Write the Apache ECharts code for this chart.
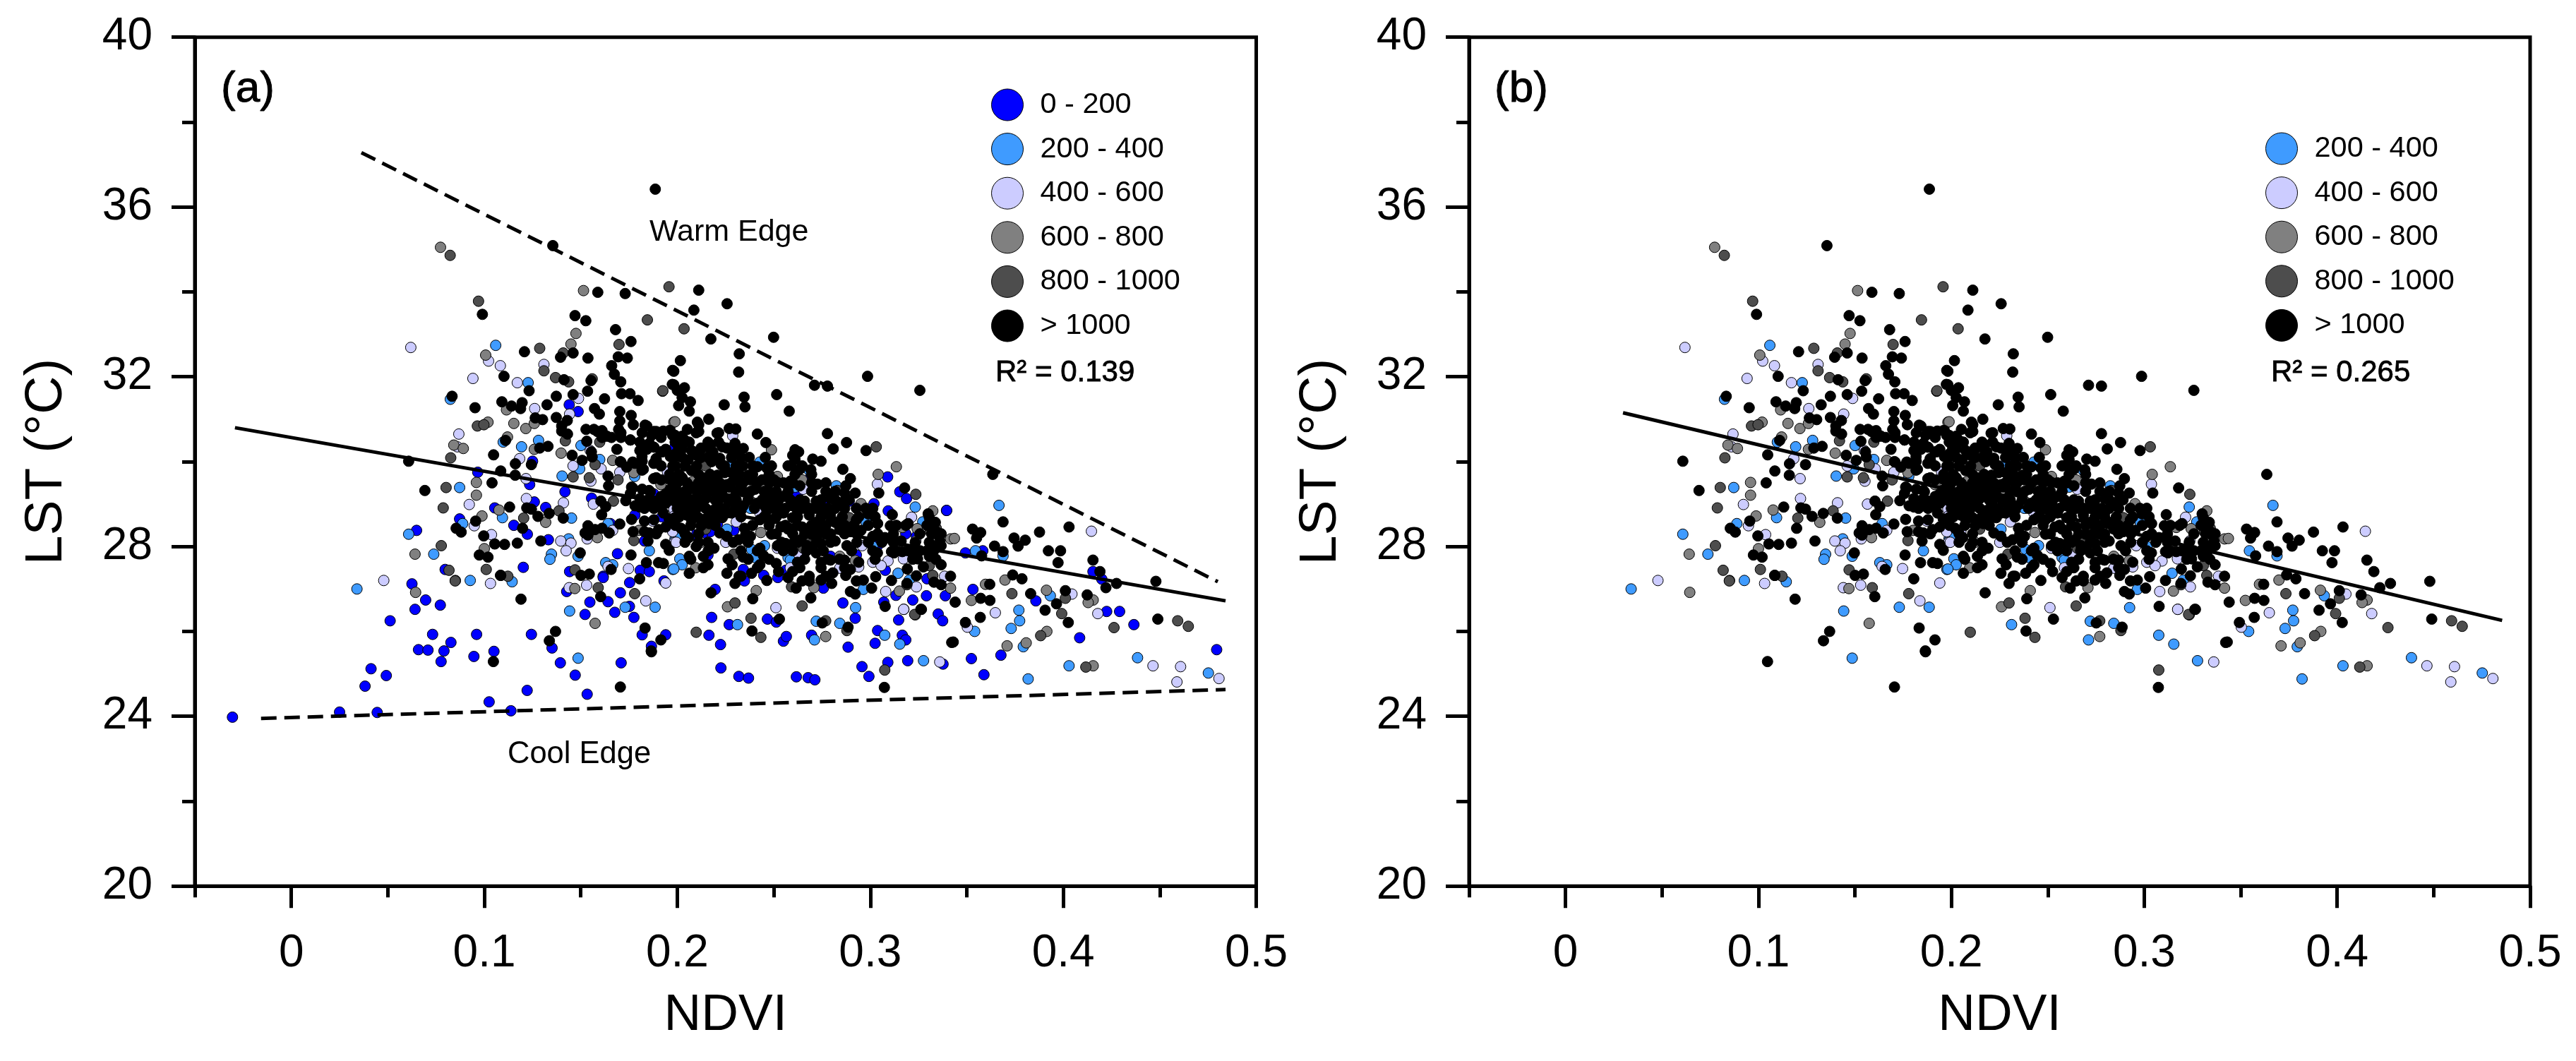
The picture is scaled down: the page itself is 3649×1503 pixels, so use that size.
<!DOCTYPE html>
<html><head><meta charset="utf-8">
<style>html,body{margin:0;padding:0;background:#fff}#c{width:3649px;height:1503px}</style>
<script src="https://cdn.jsdelivr.net/npm/echarts@6/dist/echarts.min.js"></script>
</head><body><div id="c"></div>
<script>
const legendNames = ['0 - 200','200 - 400','400 - 600','600 - 800','800 - 1000','> 1000'];
const colors = ['#0000FF','#3F9BFF','#CCCCFF','#808080','#4D4D4D','#000000'];
const yLabels = [20,24,28,32,36,40];
const yMinor = [22,26,30,34,38];
const xMajor = [0,0.1,0.2,0.3,0.4,0.5];
const xMinor = [-0.05,0.05,0.15,0.25,0.35,0.45];
const fitA = [[-0.0292,30.80],[0.4841,26.72]];
const warmEdge = [[0.0363,37.28],[0.4801,27.17]];
const coolEdge = [[-0.0157,23.95],[0.4841,24.63]];
const fitB = [[0.0298,31.15],[0.4855,26.26]];

const ptsBlue = [[-.0305,23.98],[.025,24.1],[.0445,24.09],[.0382,24.71],[.0492,24.96],[.0413,25.12],[.0512,26.25],
[.144,31.34],[.1486,31.18],[.125,30.01],[.0966,29.75],[.1235,29.46],[.1418,29.29],[.1556,29.14],[.1259,29.05],[.1054,28.91],[.1318,28.92],[.0872,28.65],[.1153,28.5],[.1223,28.29],[.0649,28.38],[.1653,28.54],[.1332,28.16],[.192,28.7],[.169,27.83],[.1202,27.51],[.0797,27.46],[.1442,27.41],[.1808,27.44],[.1855,27.41],[.1616,27.3],[.183,28.13],[.178,28.74],[.1878,29.24],[.1988,30.35],
[.0625,27.12],[.0696,26.74],[.0641,26.52],[.0772,26.62],[.0732,25.93],[.096,25.93],[.0827,25.74],[.0659,25.57],[.0708,25.56],[.0791,25.54],[.0946,25.41],[.105,25.53],[.0776,25.29],[.1244,25.93],[.1351,25.61],[.1394,25.26],[.1471,24.97],[.1222,24.61],[.1025,24.34],[.1138,24.13],[.1533,24.52],[.1709,25.26],[.1547,26.69],[.1641,26.7],[.1676,26.45],[.1522,26.4],[.1705,26.91],[.1753,27.15],[.1775,26.33],[.1818,25.92],[.194,25.92],[.1866,25.65],[.1616,27.27],[.1427,26.94],[.1752,26.59],[.1931,27.19],
[.309,29.64],[.2684,29.59],[.3153,29.29],[.3188,29.13],[.2583,29.31],[.3395,28.85],[.3093,28.84],[.3019,29.01],[.2757,28.96],[.2623,29.21],[.2891,29.07],[.2836,28.54],[.3184,28.3],[.3239,28.24],[.3038,28.02],[.2208,28.54],[.2171,28.35],[.2129,28.27],[.2086,28.27],[.2293,28.38],[.2159,27.8],[.2342,27.46],[.2348,27.19],[.2448,27.32],[.2521,27.27],[.2562,27.44],[.2928,27.8],[.2794,27.77],[.3078,27.44],[.3294,27.24],[.2196,26.99],[.2858,26.67],[.3133,26.85],[.322,26.74],[.3291,26.84],[.3389,26.84],[.307,26.69],[.2178,26.33],[.2269,26.16],[.2467,26.29],[.2513,26.22],[.3147,26.27],[.3352,26.41],[.3375,26.25],[.2922,26.31],[.2164,25.91],[.2224,25.69],[.255,25.77],[.2565,25.88],[.3038,26.02],[.3025,25.72],[.3166,25.91],[.3184,25.8],[.2885,25.63],[.2757,27.02],[.2696,25.91],
[.2226,25.14],[.2319,24.94],[.2369,24.9],[.2617,24.93],[.2678,24.91],[.2713,24.86],[.2957,25.17],[.2993,24.94],[.3091,25.27],[.3194,25.31],[.3377,25.23],[.3524,25.36],[.3589,24.98],[.3677,25.44],[.4085,25.85],[.4795,25.57],
[.3396,28.85],[.3493,27.85],[.3583,27.9],[.4154,27.41],[.42,27.23],[.3858,26.72],[.4225,26.47],[.4292,26.47],[.4366,26.16],[.3532,26.99]];

const ptsLightBlue = [[.034,27.0],[.1059,32.74],[.1227,31.86],[.0824,31.47],[.1281,30.5],[.1193,30.35],[.1098,30.46],[.1501,30.38],[.1598,30.05],[.1494,29.83],[.1403,29.66],[.1779,29.65],[.0872,29.39],[.1094,28.68],[.1452,28.67],[.0888,28.54],[.0608,28.29],[.0738,27.82],[.1855,27.9],[.1641,28.54],[.1348,27.82],[.134,27.7],[.1437,28.18],[.1486,27.77],[.1629,27.62],[.1665,27.57],[.1977,27.46],[.0927,27.2],[.1988,28.18],
[.1144,27.17],[.1442,26.48],[.1486,25.37],[.173,26.57],[.1885,26.57],
[.2284,29.96],[.2684,29.79],[.2428,29.99],[.2824,29.43],[.2379,28.9],[.3233,28.93],[.3272,28.58],[.2848,28.46],[.2891,28.38],[.2979,28.57],[.3013,28.0],[.2257,28.41],[.1994,28.21],[.2385,27.93],[.2452,28.02],[.2013,27.71],[.2025,27.57],[.1982,27.47],[.2403,27.74],[.2574,27.74],[.2586,27.68],[.3144,27.37],[.2964,26.99],[.3202,27.21],[.2924,26.56],[.2312,26.16],[.2842,26.19],[.272,26.24],[.2711,25.8],[.3075,25.91],[.3153,25.7],[.2611,29.4],
[.3276,25.31],[.3818,24.88],[.3793,25.64],[.403,25.19],[.4385,25.38],[.4752,25.02],[.3667,28.97],[.3545,27.9],[.3688,27.78],[.3933,26.84],[.377,26.5],[.3774,26.25],[.373,26.07],[.3541,26.0]];

const ptsLavender = [[.0479,27.2],[.0619,32.69],[.1022,32.37],[.1083,32.26],[.1309,32.29],[.0941,31.96],[.1171,31.86],[.1488,31.49],[.1261,31.25],[.1442,31.12],[.0868,30.65],[.086,30.35],[.1183,30.07],[.146,29.9],[.1605,29.83],[.1549,30.26],[.1702,29.75],[.1949,29.76],[.1216,29.6],[.1552,29.54],[.1218,29.13],[.141,29.03],[.1565,29.0],[.0922,28.99],[.1873,28.6],[.0948,28.49],[.1037,28.28],[.1396,28.13],[.1449,28.08],[.1424,27.9],[.1533,28.18],[.1665,28.38],[.1641,27.53],[.1747,27.48],[.1988,28.88],[.1986,28.1],
[.1032,27.13],[.153,27.09],[.144,27.03],[.1837,26.72],[.194,27.14],
[.2287,30.61],[.2653,29.35],[.3037,29.47],[.3214,28.69],[.2306,28.58],[.1982,28.88],[.1982,28.71],[.1994,28.1],[.2251,28.1],[.2519,27.96],[.2629,27.82],[.2696,28.18],[.3013,27.63],[.3092,27.66],[.3056,27.55],[.294,27.52],[.2842,27.49],[.3172,27.71],[.3236,28.13],[.3239,27.05],[.308,26.94],[.3174,26.52],[.2511,26.56],[.3385,27.3],[.2958,28.02],[.2428,28.79],[.2586,27.5],[.1976,28.35],[.2049,28.35],
[.336,25.28],[.4465,25.19],[.4608,25.17],[.4589,24.81],[.4807,24.89],[.4146,28.36],[.3648,26.44],[.4179,26.42],[.4045,26.88],[.3503,26.1],[.3173,26.52]];

const ptsGray = [[.0773,35.05],[.1514,34.03],[.1475,33.02],[.1449,32.77],[.1007,32.51],[.1019,30.93],[.1153,30.9],[.1215,30.78],[.1259,30.9],[.112,30.58],[.1115,31.22],[.0842,30.39],[.0891,30.31],[.1398,30.2],[.1259,30.29],[.1665,30.03],[.1982,30.93],[.198,29.83],[.1775,29.74],[.0959,29.51],[.0959,29.21],[.1076,28.86],[.0988,28.72],[.1318,28.57],[.1586,28.21],[.1802,28.38],[.0641,27.82],[.1,27.95],[.1915,29.46],
[.0644,26.92],[.1469,27.01],[.1574,26.19],
[.2488,30.28],[.1988,30.94],[.1982,29.84],[.208,29.53],[.2519,29.65],[.2647,29.57],[.3135,29.88],[.3041,29.7],[.3324,28.84],[.2952,29.01],[.3243,28.42],[.3166,28.45],[.2123,28.1],[.2433,28.33],[.2842,27.77],[.2922,27.67],[.2095,27.5],[.2708,27.03],[.3151,26.95],[.3416,28.18],[.3416,27.02],[.2409,26.96],[.226,26.58],[.2769,25.88],[.2013,29.07],
[.4155,25.19],[.3808,25.73],[.3709,25.66],[.3915,26.0],[.3436,28.19],[.3698,27.21],[.3913,26.97],[.3524,26.73],[.4155,26.74],[.4129,26.68],[.3597,27.11]];

const ptsDark = [[.0823,34.86],[.1957,34.12],[.2035,33.13],[.1924,31.66],[.097,33.78],[.1845,33.34],[.1698,32.76],[.1287,32.67],[.1409,32.56],[.1309,32.14],[.1369,31.98],[.1437,31.88],[.1559,31.95],[.1925,31.67],[.0964,30.84],[.0998,30.87],[.0826,30.09],[.142,30.49],[.1598,30.46],[.1574,29.93],[.146,29.64],[.1544,29.62],[.1693,29.57],[.0802,29.39],[.0787,28.91],[.1669,29.07],[.1387,28.84],[.1204,28.67],[.0777,28.02],[.1775,28.14],[.101,27.46],[.0817,27.44],[.147,27.45],[.1122,27.3],[.085,27.2],
[.0849,27.19],[.159,27.03],[.1779,26.89],
[.3031,30.35],[.2147,29.9],[.3236,29.23],[.283,29.32],[.2245,29.4],[.2379,29.07],[.2891,28.68],[.2684,28.1],[.2653,27.96],[.3342,28.43],[.3312,28.35],[.3306,27.55],[.3324,27.32],[.319,27.1],[.2293,27.82],[.2592,27.05],[.2299,26.67],[.2647,26.6],[.2382,26.31],[.2769,26.25],[.2098,25.98],[.2433,25.86],[.3233,26.39],[.2879,26.02],[.1982,29.13],[.2147,28.41],
[.3075,25.09],[.4117,25.16],[.4011,26.78],[.3992,26.42],[.3734,26.89],[.4263,26.09],[.4593,26.25],[.4648,26.12],[.3883,25.9],[.323,26.4]];

const ptsBlack = [[.1355,35.09],[.1588,33.99],[.173,33.96],[.1886,36.42],[.2111,34.04],[.2258,33.72],[.2086,33.57],[.2174,32.89],[.2499,32.93],[.2321,32.54],[.2016,32.38],[.1976,32.15],[.1974,31.82],[.3635,29.7],
[.099,33.47],[.147,33.44],[.1526,33.32],[.168,33.11],[.176,32.83],[.1208,32.59],[.146,32.56],[.1395,32.46],[.1537,32.44],[.1694,32.47],[.1741,32.44],[.166,32.26],[.1674,32.06],[.1707,31.88],[.1102,32.01],[.1413,31.93],[.1553,31.91],[.1535,31.66],[.1232,31.67],[.1373,31.54],[.146,31.58],[.1623,31.48],[.1711,31.6],[.1755,31.6],[.1797,31.44],[.0833,31.54],[.1091,31.41],[.1141,31.31],[.1188,31.25],[.1196,31.39],[.1325,31.34],[.0952,31.27],[.1571,31.25],[.1596,31.12],[.1702,31.18],[.1761,31.09],[.1264,31.03],[.1302,30.99],[.1373,31.04],[.143,30.97],[.1702,30.96],[.1772,30.87],[.1401,30.84],[.1431,30.65],[.1401,30.72],[.1527,30.76],[.1568,30.76],[.161,30.73],[.1696,30.76],[.1833,30.86],[.1878,30.71],[.1927,30.72],[.1958,30.73],[.1976,30.62],[.161,30.57],[.1659,30.57],[.1708,30.57],[.1757,30.51],[.1806,30.46],[.1855,30.43],[.111,30.5],[.1531,30.48],[.133,30.36],[.1287,30.32],[.1555,30.23],[.1687,30.29],[.1806,30.26],[.1915,30.23],[.189,30.07],[.1048,30.16],[.1455,30.15],[.1559,30.11],[.1507,30.03],[.1705,30.0],[.1769,29.99],[.1817,30.12],[.1989,30.12],[.0608,30.01],[.1161,29.95],[.1244,29.93],[.1878,29.96],[.1738,29.87],[.1817,29.8],[.1085,29.78],[.116,29.68],[.1641,29.66],[.1878,29.6],[.1989,29.57],[.104,29.5],[.1644,29.43],[.1763,29.4],[.186,29.29],[.1964,29.35],[.0692,29.32],[.1757,29.25],[.1733,29.08],[.1806,29.13],[.1878,29.07],[.1951,29.18],[.1604,29.07],[.1629,28.94],[.1608,28.75],[.1806,28.93],[.1855,28.96],[.194,29.02],[.1131,28.93],[.122,28.91],[.1244,28.88],[.1278,28.71],[.1336,28.78],[.1409,28.67],[.1763,28.64],[.183,28.6],[.1958,28.65],[.1702,28.53],[.1537,28.49],[.0955,28.6],[.1198,28.43],[.0854,28.43],[.088,28.34],[.1522,28.32],[.1574,28.4],[.161,28.43],[.1647,28.32],[.1537,28.27],[.1771,28.35],[.1855,28.32],[.1903,28.4],[.194,28.46],[.0997,28.25],[.1054,28.06],[.1105,28.05],[.1171,28.08],[.1293,28.13],[.1848,28.13],[.194,28.05],[.1958,27.91],[.1497,27.85],[.176,27.8],[.0974,27.8],[.1019,27.75],[.184,27.62],[.1903,27.62],[.1928,27.6],[.1657,27.46],[.1084,27.32],[.1501,27.32],[.1544,27.35],
[.1085,27.32],[.119,26.76],[.1603,26.82],[.1805,27.24],[.1833,26.08],[.1369,26.0],[.1337,25.78],[.1047,25.29],[.1915,25.8],[.1866,25.52],[.1705,24.69],
[.2318,32.11],[.1982,32.13],[.2986,32.01],[.3257,31.68],[.2711,31.8],[.2778,31.78],[.2515,31.58],[.2346,31.52],[.2243,31.34],[.2351,31.29],[.258,31.19],[.1982,31.81],[.2037,31.74],[.2,31.68],[.2025,31.51],[.2068,31.41],[.2007,31.32],[.2062,31.19],[.2163,31.0],[.2104,30.93],[.2052,30.76],[.2098,30.68],[.2269,30.78],[.2303,30.77],[.2206,30.67],[.2415,30.65],[.2778,30.66],[.2877,30.45],[.2459,30.45],[.2808,30.3],[.2978,30.26],[.2858,29.82],[.2629,30.23],[.2598,30.15],[.2702,30.06],[.2745,30.01],[.2589,29.91],[.2456,30.1],[.2299,30.43],[.2342,30.31],[.2159,30.46],[.2214,30.46],[.1988,30.62],[.2037,30.51],[.2123,30.32],[.2007,30.32],[.2074,30.26],[.2184,30.23],[.2049,30.04],[.2123,30.1],[.2281,30.1],[.2373,30.1],[.2391,29.9],[.2464,29.85],[.2178,30.0],[.2635,29.82],[.2692,29.81],[.2897,29.6],[.2726,29.47],[.2873,29.43],[.2922,29.26],[.3044,29.26],[.3178,29.38],[.2867,29.26],[.2586,29.54],[.2635,29.43],[.2519,29.51],[.2367,29.68],[.244,29.57],[.2281,29.74],[.2208,29.68],[.2147,29.57],[.2074,29.79],[.2025,29.62],[.1988,29.4],[.2037,29.29],[.2123,29.35],[.2184,29.46],[.2269,29.4],[.2342,29.29],[.2403,29.35],[.2476,29.29],[.255,29.18],[.2476,29.07],[.2537,28.9],[.2598,28.96],[.2659,29.07],[.272,29.07],[.2794,29.13],[.2855,29.04],[.2928,28.9],[.3013,28.9],[.2989,28.77],[.3114,28.75],[.2147,29.13],[.222,29.13],[.2281,29.04],[.2342,28.96],[.211,29.02],[.2037,28.96],[.2184,28.85],[.2257,28.79],[.2049,28.74],[.1988,28.68],[.2135,28.63],[.219,28.68],[.2464,28.85],[.2488,28.63],[.2598,28.68],[.2684,28.74],[.2794,28.79],[.2745,28.46],[.2647,28.46],[.2574,28.41],[.2488,28.29],[.2019,28.43],[.2165,28.54],[.2928,28.63],[.3038,28.54],[.3104,28.49],[.3196,28.54],[.33,28.77],[.3337,28.57],[.3361,28.13],[.3318,28.02],[.3306,27.77],[.3245,27.71],[.3367,27.57],[.3275,27.52],[.3192,27.47],[.3239,27.31],[.311,27.2],[.3028,27.29],[.3166,27.88],[.311,27.88],[.3037,27.85],[.316,28.13],[.3076,28.21],[.3013,28.24],[.2952,28.38],[.2842,28.41],[.2769,28.29],[.2696,28.29],[.2641,28.16],[.2562,28.07],[.2519,28.02],[.2428,27.96],[.2379,28.24],[.2348,28.43],[.2318,28.16],[.2257,28.24],[.222,28.32],[.2159,28.1],[.2098,28.0],[.219,27.96],[.2059,28.21],[.2062,27.77],[.2135,27.77],[.2159,27.57],[.2062,27.37],[.2263,27.71],[.2284,27.57],[.2257,27.37],[.2342,27.75],[.2385,27.37],[.233,27.3],[.2299,27.13],[.2464,27.2],[.2446,27.79],[.2428,27.57],[.2513,27.6],[.2525,27.41],[.2574,27.27],[.2623,27.63],[.2598,27.41],[.2647,27.19],[.2616,27.02],[.2684,27.19],[.272,27.85],[.2696,27.96],[.2745,27.63],[.2794,27.68],[.2745,27.21],[.2806,27.38],[.28,27.13],[.2867,27.68],[.2897,27.46],[.2873,27.32],[.2928,27.19],[.2964,27.21],[.3007,27.02],[.2897,26.94],[.2922,26.88],[.2175,26.91],[.2391,26.77],[.2692,26.79],[.3077,26.59],[.3265,26.52],[.2529,26.29],[.2751,26.2],[.2885,26.1],[.2387,26.01],[.3422,25.74],[.319,27.13],[.333,27.16],[.3367,27.1],[.3416,27.3],
[.2086,29.4],[.2159,29.46],[.2306,29.57],[.2208,29.24],[.2257,29.13],[.233,28.85],[.2415,29.02],[.2501,29.57],[.2488,29.13],[.255,28.79],[.2623,28.85],[.2684,28.9],[.2757,28.9],[.2818,28.9],[.272,28.57],[.2818,28.57],[.2891,28.35],[.2818,28.13],[.2745,28.07],[.2672,28.02],[.2598,28.07],[.2537,28.46],[.2428,28.63],[.2452,28.96],[.211,28.68],[.2074,28.9],[.2245,28.9],[.2281,28.79],[.2379,29.57],[.233,29.4],[.2159,29.29],[.2184,29.62],[.2245,29.74],[.2,28.9],[.2013,29.13],[.2879,28.02],[.294,27.63],[.3123,27.85],[.3233,27.91],[.3306,28.68],[.3342,28.35],[.333,27.91],[.3367,28.02],
[.3073,24.68],[.1865,25.54],[.343,25.75],
[.3688,28.58],[.353,28.41],[.3572,28.33],[.3551,28.2],[.3745,28.2],[.3803,28.15],[.3766,28.01],[.3877,28.34],[.403,28.46],[.3644,28.01],[.3688,27.88],[.3577,27.78],[.3923,27.9],[.3986,27.9],[.3973,27.62],[.4154,27.68],[.419,27.41],[.4276,27.13],[.4221,27.03],[.448,27.18],[.3738,27.33],[.3786,27.24],[.3619,27.11],[.3572,26.78],[.362,26.73],[.3831,26.89],[.4011,26.96],[.4124,26.86],[.3965,26.65],[.3906,26.5],[.357,26.33],[.3493,26.21],[.4026,26.21],[.449,26.29],[.344,26.69],[.3262,26.52],
[.1818,30.68],[.1867,30.62],[.1916,30.57],[.1879,30.34],[.1842,30.29],[.194,30.29],[.1989,30.46],[.1964,30.12],[.1818,30.01],[.1916,29.9],[.1977,29.9],[.1916,29.57],[.1964,29.57],[.1818,29.35],[.1916,29.18],[.1855,29.13],[.183,28.9],[.1879,28.9],[.1928,28.79],[.1989,29.29],[.1989,29.07],[.1989,28.63],[.1879,28.63],[.183,28.35],[.1891,28.3],
[.1586,30.71],[.1635,30.6],[.1708,30.68],[.1757,30.51],[.1818,30.29],[.1842,30.84],[.1891,30.71],[.1964,30.73],[.2025,30.6],[.2062,30.46],[.2111,30.87],[.2111,30.71],[.2172,30.4],[.2214,30.68],[.2233,30.35],[.1922,30.23],[.1891,30.04],[.1989,30.18],[.2056,30.04],[.2123,30.29],[.2184,30.1],[.2227,29.93],[.2288,30.15],[.1708,29.99],[.1781,29.96],[.1824,29.82],[.2086,29.79],[.2025,29.57],[.1983,29.4],[.1891,29.62],[.1769,29.38],[.1854,29.32],[.194,29.24],[.2147,29.62],[.2196,29.62],[.2159,29.4],[.2208,29.35],[.2147,29.13],[.2208,29.02],[.2257,29.46],[.2281,29.13],[.1781,28.96],[.1842,28.96],[.1915,28.96],[.2037,28.85],[.2074,28.63],[.2123,28.49],[.2184,28.57],[.2233,28.68],[.2098,29.13],[.205,29.13],
[.201,30.3],[.2025,30.1],[.21,30.15],[.216,30.1],[.222,30.08],[.233,30.1],[.261,30.05],[.2025,30.3],[.217,30.3],[.2257,30.32],[.2305,30.3],[.261,30.28],
[.199,29.9],[.204,29.9],[.21,29.9],[.2245,29.9],[.2305,29.9],[.234,29.9],[.2415,29.88],[.2488,29.9],[.2574,29.9],[.2647,29.9],
[.196,29.7],[.201,29.7],[.211,29.7],[.217,29.7],[.232,29.7],[.239,29.7],[.2476,29.7],[.261,29.7],[.2696,29.7],
[.2,29.5],[.205,29.5],[.211,29.5],[.222,29.5],[.228,29.5],[.234,29.5],[.2415,29.5],[.2476,29.5],[.255,29.5],[.2598,29.5],[.2696,29.5],[.277,29.5],
[.2,29.3],[.205,29.3],[.21,29.3],[.217,29.3],[.223,29.3],[.2305,29.3],[.238,29.3],[.245,29.3],[.2513,29.3],[.2574,29.3],[.2696,29.3],[.277,29.3],[.2818,29.3],
[.198,29.1],[.207,29.1],[.212,29.1],[.2196,29.1],[.2305,29.1],[.2367,29.1],[.244,29.1],[.2525,29.1],[.2586,29.1],[.2635,29.1],[.2745,29.1],[.2818,29.1],[.289,29.1],
[.2025,28.9],[.21,28.9],[.2147,28.9],[.222,28.9],[.2305,28.9],[.24,28.9],[.25,28.9],[.256,28.9],[.2647,28.9],[.272,28.9],[.278,28.9],[.2867,28.9],[.2977,28.9],
[.201,28.7],[.209,28.7],[.216,28.7],[.2226,28.7],[.233,28.7],[.245,28.7],[.2513,28.7],[.2623,28.7],[.2745,28.7],[.2794,28.7],[.2855,28.7],[.294,28.7],[.3025,28.7],
[.199,28.5],[.207,28.5],[.2196,28.5],[.239,28.5],[.2476,28.5],[.256,28.5],[.2623,28.5],[.2696,28.5],[.277,28.5],[.2867,28.5],[.2915,28.5],[.299,28.5],[.3135,28.5],[.3184,28.5],[.3294,28.5],[.3318,28.5],
[.204,28.3],[.211,28.3],[.2355,28.3],[.2513,28.3],[.2598,28.3],[.266,28.3],[.2733,28.3],[.2794,28.3],[.2867,28.3],[.293,28.3],[.3038,28.3],[.312,28.3],[.3257,28.3],[.3318,28.3],[.334,28.3],[.3367,28.3],
[.204,28.1],[.211,28.1],[.229,28.1],[.2367,28.1],[.254,28.1],[.2623,28.1],[.272,28.1],[.2794,28.1],[.293,28.1],[.299,28.1],[.306,28.1],[.312,28.1],[.3233,28.1],[.3306,28.1],
[.216,27.9],[.233,27.9],[.2415,27.9],[.255,27.9],[.2598,27.9],[.267,27.9],[.2757,27.9],[.2903,27.9],[.3013,27.9],[.3135,27.9],[.3196,27.9],[.3257,27.9],[.3294,27.9],
[.207,27.7],[.2367,27.7],[.2476,27.7],[.266,27.7],[.278,27.7],[.284,27.7],[.3025,27.7],[.322,27.7],[.334,27.7],
[.2135,27.5],[.2415,27.5],[.2635,27.5],[.2745,27.5],[.2867,27.5],
[.232,27.3],[.2684,27.3],[.277,27.3]];

const allPts = [ptsBlue,ptsLightBlue,ptsLavender,ptsGray,ptsDark,ptsBlack];
const font = 'Liberation Sans';

function axisPair(kind, gridIndex){
  const isX = kind==='x';
  const base = {type:'value',gridIndex,splitLine:{show:false},
    position:isX?'bottom':'left',
    min:isX?-0.05:20,max:isX?0.5:40};
  const main = Object.assign({},base,{
    axisLine:{show:true,onZero:false,lineStyle:{color:'#000',width:5}},
    interval:isX?0.05:4,
    axisTick:{show:true,length:isX?31:33,inside:false,lineStyle:{color:'#000',width:5},customValues:isX?xMajor:yLabels},
    axisLabel:{show:true,color:'#000',fontFamily:font,fontSize:64,margin:isX?64:60,hideOverlap:false,showMinLabel:true,showMaxLabel:true,customValues:isX?xMajor:yLabels},
    name:isX?'NDVI':'LST (°C)',nameLocation:'middle',nameGap:isX?147:172,
    nameTextStyle:{color:'#000',fontFamily:font,fontSize:isX?73:75}
  });
  const minor = Object.assign({},base,{
    interval:isX?0.05:2,
    axisLine:{show:false,onZero:false},
    axisTick:{show:true,length:isX?16:18,lineStyle:{color:'#000',width:5},customValues:isX?xMinor:yMinor},
    axisLabel:{show:false}
  });
  return [main,minor];
}
function scatterSeries(ax, skipFirst){
  const out=[];
  allPts.forEach((pts,i)=>{
    if(skipFirst && i===0) return;
    out.push({type:'scatter',name:legendNames[i],xAxisIndex:ax,yAxisIndex:ax,data:pts,symbol:'circle',symbolSize:15,
      itemStyle:{color:colors[i],borderColor:'#000',borderWidth:1,opacity:1},silent:true,z:2+i,animation:false});
  });
  return out;
}
function lineSeries(ax,pts,dash){
  return {type:'line',xAxisIndex:ax,yAxisIndex:ax,data:pts,symbol:'none',silent:true,z:20,animation:false,
    lineStyle:{color:'#000',width:5,type:dash?[22,11]:'solid'}};
}
function legend(left,top,names){
  return {show:true,orient:'vertical',left,top,data:names,icon:'circle',itemWidth:45,itemHeight:45,itemGap:16.6,selectedMode:false,
    padding:0,textStyle:{color:'#000',fontFamily:font,fontSize:41.5,padding:[0,0,0,19]},itemStyle:{borderColor:'#000',borderWidth:1}};
}
function txt(x,y,text,size,stroke){
  return {type:'text',x,y,silent:true,z:30,style:{text,fontFamily:font,fontSize:size,fill:'#000',align:'left',verticalAlign:'middle',
    stroke:stroke?'#000':null,lineWidth:stroke||0}};
}
const chart = echarts.init(document.getElementById('c'),null,{renderer:'canvas'});
chart.setOption({
  animation:false,backgroundColor:'#fff',
  grid:[
    {left:276,top:52.7,width:1503.5,height:1202.5,show:true,borderColor:'#000',borderWidth:5,backgroundColor:'transparent',containLabel:false,outerBoundsMode:'none'},
    {left:2081,top:52.7,width:1503,height:1202.5,show:true,borderColor:'#000',borderWidth:5,backgroundColor:'transparent',containLabel:false,outerBoundsMode:'none'}
  ],
  xAxis:[...axisPair('x',0),...axisPair('x',1)],
  yAxis:[...axisPair('y',0),...axisPair('y',1)],
  legend:[legend(1404,125.5,legendNames),legend(3209,187.5,legendNames.slice(1))],
  series:[
    ...scatterSeries(0,false),
    lineSeries(0,fitA,false),lineSeries(0,warmEdge,true),lineSeries(0,coolEdge,true),
    ...scatterSeries(2,true),
    lineSeries(2,fitB,false)
  ],
  graphic:[
    txt(313,127,'(a)',62,1),txt(2117,127,'(b)',62,1),
    txt(920,329,'Warm Edge',43),txt(719,1069,'Cool Edge',43.5),
    txt(1410,528,'R² = 0.139',42,0.8),txt(3217,528,'R² = 0.265',42,0.8)
  ]
});
</script></body></html>
